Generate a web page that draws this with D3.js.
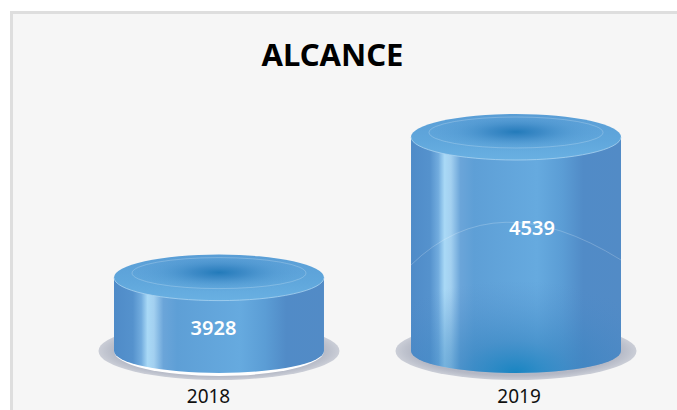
<!DOCTYPE html>
<html>
<head>
<meta charset="utf-8">
<script src="https://cdn.jsdelivr.net/npm/d3@7"></script>
<style>
html, body { margin: 0; padding: 0; background: #fff; }
svg { display: block; }
</style>
</head>
<body>
<svg id="chart"></svg>
<script>
var years = ["2018", "2019"];
var alcance = [3928, 4539];
var titulo = "ALCANCE";

var width = 677;
var height = 410;
var fuente = "'Noto Sans', sans-serif";

var svg = d3.select("#chart")
    .attr("width", width)
    .attr("height", height);

// panel, runs off the right and bottom of the picture
svg.append("rect")
    .attr("x", 11.5).attr("y", 12.5)
    .attr("width", 680).attr("height", 410)
    .attr("fill", "#f6f6f6")
    .attr("stroke", "#dedede")
    .attr("stroke-width", 3);

// scales, the axis does not start at zero
var xScale = d3.scaleBand()
    .domain(years)
    .range([114, 621])
    .paddingInner(0.293);

var yScale = d3.scaleLinear()
    .domain([3609, 4539])
    .range([351, 137]);

var defs = svg.append("defs");

// body of the cylinder
var lado = defs.append("linearGradient").attr("id", "lado");
[[0, "#4f8bc8"], [0.09, "#5592cd"], [0.13, "#72acde"], [0.16, "#a9d9f6"], [0.19, "#a3d0f0"],
 [0.235, "#6ba5d9"], [0.3, "#5e9fd6"], [0.6, "#66aadf"], [0.72, "#5b9dd5"], [0.82, "#518bc7"], [1, "#528bc6"]]
    .forEach(function(s){
        lado.append("stop").attr("offset", s[0]).attr("stop-color", s[1]);
    });

// top face, lighter towards the front
var tapaBase = defs.append("linearGradient").attr("id", "tapaBase")
    .attr("x1", 0).attr("x2", 0).attr("y1", 0).attr("y2", 1);
[[0, "#5a9ed6"], [0.6, "#60a7dc"], [1, "#69b0e2"]]
    .forEach(function(s){
        tapaBase.append("stop").attr("offset", s[0]).attr("stop-color", s[1]);
    });

var tapa = defs.append("radialGradient").attr("id", "tapa")
    .attr("cx", 0.5).attr("cy", 0.39).attr("r", 0.5);
[[0, "#1f78b8", 0.95], [0.25, "#3080bf", 0.7], [0.55, "#4690cb", 0.3], [0.85, "#5a9ed6", 0]]
    .forEach(function(s){
        tapa.append("stop").attr("offset", s[0]).attr("stop-color", s[1]).attr("stop-opacity", s[2]);
    });

var base = defs.append("radialGradient").attr("id", "base")
    .attr("cx", 0.5).attr("cy", 0.5).attr("r", 0.5);
[[0, "#a9aebc"], [0.85, "#b4b8c5"], [0.93, "#bfc3ce"], [1, "#cbced7"]]
    .forEach(function(s){
        base.append("stop").attr("offset", s[0]).attr("stop-color", s[1]);
    });

// dark glow at the bottom of the tall one
var brillo = defs.append("radialGradient").attr("id", "brillo")
    .attr("cx", 0.5).attr("cy", 1).attr("r", 0.8);
brillo.append("stop").attr("offset", 0).attr("stop-color", "#0a7fbd").attr("stop-opacity", 0.85);
brillo.append("stop").attr("offset", 0.35).attr("stop-color", "#2f80bd").attr("stop-opacity", 0.5);
brillo.append("stop").attr("offset", 1).attr("stop-color", "#4f8ac8").attr("stop-opacity", 0);

var rx = xScale.bandwidth() / 2;
var ry = 23;
var y0 = yScale.domain()[0];

var cylinderPath = function(cx, top, bottom, curve){
    return "M" + (cx - rx) + "," + top +
        "L" + (cx - rx) + "," + bottom +
        "A" + rx + "," + curve + " 0 0 0 " + (cx + rx) + "," + bottom +
        "L" + (cx + rx) + "," + top + "Z";
}

var datos = years.map(function(y, i){ return {year: y, value: alcance[i]}; });

var grupos = svg.selectAll("g.bar")
    .data(datos)
    .enter()
    .append("g")
    .attr("class", "bar");

var centro = function(d){ return xScale(d.year) + rx; };

// grey plate
grupos.append("ellipse")
    .attr("cx", centro)
    .attr("cy", yScale(y0))
    .attr("rx", rx + 15.5)
    .attr("ry", 29)
    .attr("fill", "url(#base)");

// white rim, only visible on the short one
grupos.filter(function(d){ return d.year == "2018"; })
    .append("path")
    .attr("d", function(d){ return cylinderPath(centro(d), yScale(d.value), yScale(y0), ry + 2); })
    .attr("fill", "#fff");

// body
grupos.append("path")
    .attr("d", function(d){ return cylinderPath(centro(d), yScale(d.value), yScale(y0), ry - 1); })
    .attr("fill", "url(#lado)");

// bottom glow
grupos.filter(function(d){ return d.year == "2019"; })
    .append("path")
    .attr("d", function(d){ return cylinderPath(centro(d), yScale(d.value) + 120, yScale(y0), ry - 1); })
    .attr("fill", "url(#brillo)");

// thin arc across the tall one
grupos.filter(function(d){ return d.year == "2019"; })
    .append("path")
    .attr("d", function(d){
        var c = centro(d);
        return "M" + (c - rx) + ",265 Q" + (c - 20) + ",182 " + (c + rx) + ",260";
    })
    .attr("fill", "none")
    .attr("stroke", "#fff")
    .attr("stroke-opacity", 0.3)
    .attr("stroke-width", 0.7);

// top face
grupos.append("ellipse")
    .attr("cx", centro)
    .attr("cy", function(d){ return yScale(d.value); })
    .attr("rx", rx)
    .attr("ry", ry)
    .attr("fill", "url(#tapaBase)");

grupos.append("ellipse")
    .attr("cx", centro)
    .attr("cy", function(d){ return yScale(d.value); })
    .attr("rx", rx)
    .attr("ry", ry)
    .attr("fill", "url(#tapa)");

// light lower edge of the top
grupos.append("path")
    .attr("d", function(d){
        var c = centro(d), t = yScale(d.value);
        return "M" + (c - rx) + "," + t + "A" + rx + "," + ry + " 0 0 0 " + (c + rx) + "," + t;
    })
    .attr("fill", "none")
    .attr("stroke", "#a9d3f0")
    .attr("stroke-width", 0.8);

// inner ring on the top
grupos.append("ellipse")
    .attr("cx", centro)
    .attr("cy", function(d){ return yScale(d.value) - 4.5; })
    .attr("rx", rx - 18)
    .attr("ry", 15.5)
    .attr("fill", "none")
    .attr("stroke", "#fff")
    .attr("stroke-opacity", 0.3)
    .attr("stroke-width", 0.7);

// value labels
grupos.append("text")
    .attr("x", function(d){ return d.year == "2018" ? centro(d) - 5.5 : centro(d) + 16; })
    .attr("y", function(d){ return d.year == "2018" ? 335 : 235; })
    .attr("text-anchor", "middle")
    .attr("font-family", fuente)
    .attr("font-weight", 600)
    .attr("font-size", 20)
    .attr("fill", "#fff")
    .text(function(d){ return d.value; });

// category labels, they sit off the cylinder centres in the original
var xAxis = d3.axisBottom(xScale).tickSize(0).tickPadding(0);
var ejeX = svg.append("g")
    .attr("transform", "translate(0,389)")
    .call(xAxis);
ejeX.select(".domain").remove();
ejeX.selectAll("text")
    .attr("dx", function(d){ return d == "2018" ? -10.5 : 3; })
    .attr("font-family", fuente)
    .attr("font-size", 19)
    .attr("fill", "#111");

svg.append("text")
    .attr("x", 332.5)
    .attr("y", 66)
    .attr("text-anchor", "middle")
    .attr("font-family", fuente)
    .attr("font-weight", 700)
    .attr("font-size", 31)
    .attr("fill", "#000")
    .text(titulo);
</script>
</body>
</html>
